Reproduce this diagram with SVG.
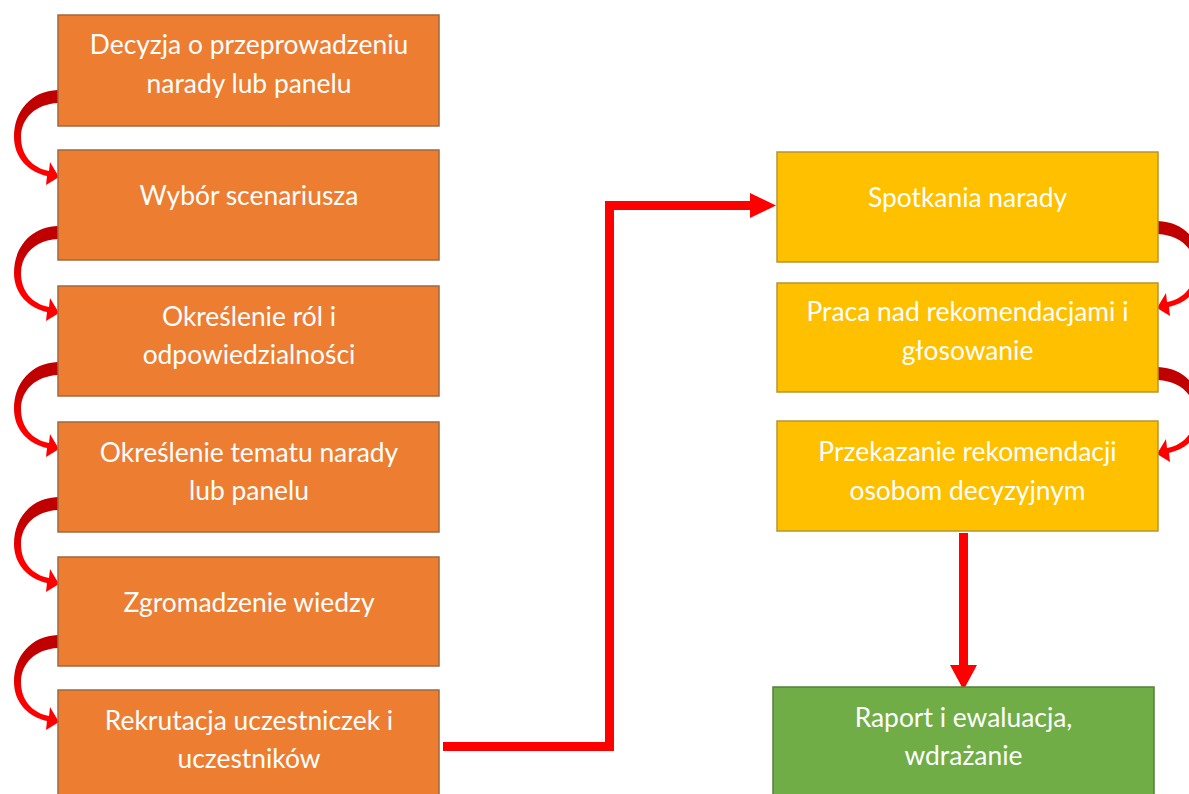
<svg xmlns="http://www.w3.org/2000/svg" width="1189" height="794" viewBox="0 0 1189 794">
<defs>
<style>
.o{fill:#ED7D31;stroke:#A0683E;stroke-width:1.5}
.y{fill:#FFC000;stroke:#B8952E;stroke-width:1.5}
.g{fill:#70AD47;stroke:#557F38;stroke-width:1.5}
.t{font-family:Lato,"Open Sans",sans-serif;font-size:26.4px;fill:#FFFFFF;text-anchor:middle}
.ln{fill:none;stroke:#FF0000;stroke-width:9}
.ah{fill:#FF0000}
</style>
<linearGradient id="cg" x1="0" y1="0" x2="0" y2="1">
<stop offset="0.25" stop-color="#C00000"/>
<stop offset="0.65" stop-color="#FF0000"/>
</linearGradient>
<path id="ca" fill="url(#cg)" d="M58,90 C31,91 14,111 14,137 C14,158 29,172 47,176 L46,185 L59,177 L50,162 L49,171 C33,168 21,156 21,137 C21,118 36,104 58,103 Z"/>
</defs>
<rect width="1189" height="794" fill="#FFFFFF"/>
<g id="connectors">
<use href="#ca"/>
<use href="#ca" transform="translate(0,136)"/>
<use href="#ca" transform="translate(0,272)"/>
<use href="#ca" transform="translate(0,407)"/>
<use href="#ca" transform="translate(0,545)"/>
<use href="#ca" transform="translate(1216,131) scale(-1,1)"/>
<use href="#ca" transform="translate(1216,277) scale(-1,1)"/>
<polyline class="ln" points="443,746.5 609.5,746.5 609.5,205.5 752,205.5"/>
<polygon class="ah" points="750,193 776,205.5 750,218"/>
<line class="ln" x1="963.5" y1="533" x2="963.5" y2="667"/>
<polygon class="ah" points="950,665 977,665 963.5,690"/>
</g>
<g id="n1"><rect class="o" x="58" y="15" width="381" height="111"/><text class="t" x="249" y="54">Decyzja o przeprowadzeniu</text><text class="t" x="249" y="93">narady lub panelu</text></g>
<g id="n2"><rect class="o" x="58" y="150" width="381" height="110"/><text class="t" x="249" y="205">Wybór scenariusza</text></g>
<g id="n3"><rect class="o" x="58" y="286" width="381" height="110"/><text class="t" x="249" y="326">Określenie ról i</text><text class="t" x="249" y="364">odpowiedzialności</text></g>
<g id="n4"><rect class="o" x="58" y="422" width="381" height="110"/><text class="t" x="249" y="462">Określenie tematu narady</text><text class="t" x="249" y="500">lub panelu</text></g>
<g id="n5"><rect class="o" x="58" y="557" width="381" height="109"/><text class="t" x="249" y="612">Zgromadzenie wiedzy</text></g>
<g id="n6"><rect class="o" x="58" y="690" width="381" height="110"/><text class="t" x="249" y="730">Rekrutacja uczestniczek i</text><text class="t" x="249" y="768">uczestników</text></g>
<g id="n7"><rect class="y" x="777" y="152" width="381" height="110"/><text class="t" x="967.5" y="207">Spotkania narady</text></g>
<g id="n8"><rect class="y" x="777" y="283" width="381" height="109"/><text class="t" x="967.5" y="321">Praca nad rekomendacjami i</text><text class="t" x="967.5" y="360">głosowanie</text></g>
<g id="n9"><rect class="y" x="777" y="421" width="381" height="110"/><text class="t" x="967.5" y="461">Przekazanie rekomendacji</text><text class="t" x="967.5" y="500">osobom decyzyjnym</text></g>
<g id="n10"><rect class="g" x="773" y="687" width="381" height="115"/><text class="t" x="963.5" y="727">Raport i ewaluacja,</text><text class="t" x="963.5" y="765">wdrażanie</text></g>
</svg>
